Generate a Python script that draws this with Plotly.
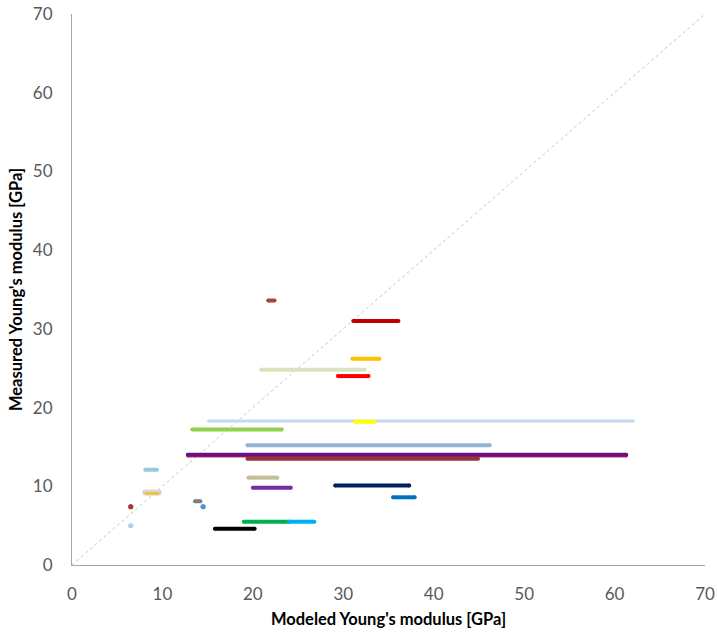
import plotly.graph_objects as go

# Measured modulus (y) with the modeled range (x_min .. x_max) for each sample
measured = [33.6, 31.0, 26.2, 24.8, 24.0, 18.3, 18.2, 17.2, 15.2, 13.85, 14.0, 13.5,
            12.1, 11.1, 10.1, 9.8, 9.2, 9.1, 8.6, 8.1, 7.4, 7.4, 5.5, 5.5, 4.6, 5.0]
modeled_min = [21.7, 31.1, 31.0, 20.9, 29.4, 15.1, 31.3, 13.3, 19.4, 12.8, 12.8, 19.4,
               8.1, 19.5, 29.1, 20.0, 8.1, 8.2, 35.5, 13.6, 14.5, 6.5, 19.0, 24.0, 15.8, 6.5]
modeled_max = [22.4, 36.1, 34.0, 32.4, 32.8, 62.1, 33.4, 23.2, 46.2, 61.3, 61.3, 44.9,
               9.4, 22.7, 37.3, 24.2, 9.6, 9.5, 37.9, 14.2, 14.5, 6.5, 24.0, 26.8, 20.2, 6.5]

colors = ["#a9443f", "#c00000", "#ffc000", "#d7e4bd", "#ff0000", "#c6d9f1", "#ffff00",
          "#92d050", "#95b3d7", "#e0305a", "#6b0f86", "#943634", "#93cddd", "#c4bd97",
          "#002060", "#7030a0", "#d9d9d9", "#f2c040", "#0070c0", "#7f7f7f", "#558ed5",
          "#a33b36", "#00b050", "#00b0f0", "#000000", "#b9cde5"]
widths = [4, 4, 4, 4, 4, 3, 4, 4, 4, 3, 4, 4, 4, 4, 4, 4, 6, 3, 4, 4, 5, 5, 4, 4, 4, 5]

axis_range = [0, 70]

fig = go.Figure()

# 1:1 reference line
fig.add_trace(go.Scatter(
    x=axis_range, y=axis_range, mode="lines",
    line=dict(color="#bcc8dc", width=1, dash="3px,3px"),
    hoverinfo="skip", showlegend=False,
))

# each sample as a horizontal bar; end markers give it rounded caps
for y, x0, x1, c, w in zip(measured, modeled_min, modeled_max, colors, widths):
    fig.add_trace(go.Scatter(
        x=[x0, x1], y=[y, y], mode="lines+markers",
        line=dict(color=c, width=w),
        marker=dict(color=c, size=w, line=dict(width=0)),
        showlegend=False,
    ))

axis_common = dict(
    range=axis_range, dtick=10, showgrid=False, zeroline=False,
    showline=True, linecolor="#a6a6a6", linewidth=1, automargin=False,
    ticks="", tickfont=dict(family="Lato", size=17, color="#595959"),
    title_font=dict(family="Lato", size=16.5, color="#000000"),
)

fig.update_layout(
    width=717, height=636,
    margin=dict(l=72, r=12, t=14, b=71),
    plot_bgcolor="white", paper_bgcolor="white",
    xaxis=dict(**axis_common, ticklabelstandoff=14,
               title=dict(text="<b>Modeled Young's modulus [GPa]</b>", standoff=10)),
    yaxis=dict(**axis_common, ticklabelstandoff=15,
               title=dict(text="<b>Measured Young's modulus [GPa]</b>", standoff=6)),
)

fig.write_html("out.html")
